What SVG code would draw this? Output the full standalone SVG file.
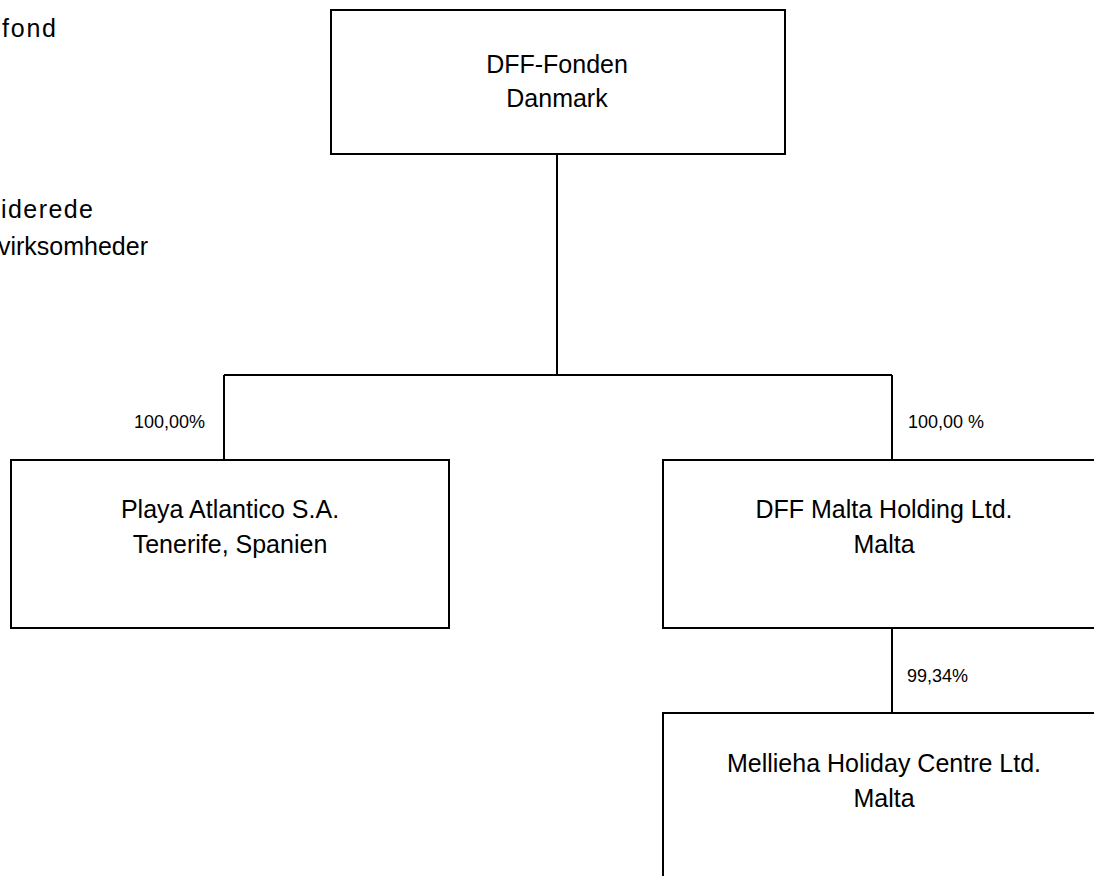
<svg xmlns="http://www.w3.org/2000/svg" width="1094" height="876" viewBox="0 0 1094 876">
  <style>
    .box { fill: #ffffff; stroke: #000000; stroke-width: 2; }
    .conn { fill: none; stroke: #000000; stroke-width: 2; }
    .name { font-family: "Liberation Sans", Arial, sans-serif; font-size: 25px; fill: #000000; text-anchor: middle; }
    .pct { font-family: "Liberation Sans", Arial, sans-serif; font-size: 18px; fill: #000000; }
    .side { font-family: "Liberation Sans", Arial, sans-serif; font-size: 25px; fill: #000000; }
  </style>
  <rect width="1094" height="876" fill="#ffffff"/>

  <g id="legend">
    <text class="side" x="2" y="37" textLength="54" lengthAdjust="spacing">fond</text>
    <text class="side" x="1" y="218" textLength="92" lengthAdjust="spacing">iderede</text>
    <text class="side" x="-2" y="255" textLength="150" lengthAdjust="spacing">virksomheder</text>
  </g>

  <g id="connectors">
    <path class="conn" d="M557 154 V375 M224 375 H892 M224 375 V460 M892 375 V460 M892 628 V713"/>
    <text class="pct" x="205" y="428" text-anchor="end">100,00%</text>
    <text class="pct" x="908" y="428">100,00 %</text>
    <text class="pct" x="907" y="682">99,34%</text>
  </g>

  <g id="dff-fonden">
    <rect class="box" x="331" y="10" width="454" height="144"/>
    <text class="name" x="557" y="73">DFF-Fonden</text>
    <text class="name" x="557" y="107">Danmark</text>
  </g>

  <g id="playa-atlantico">
    <rect class="box" x="11" y="460" width="438" height="168"/>
    <text class="name" x="230" y="518">Playa Atlantico S.A.</text>
    <text class="name" x="230" y="553">Tenerife, Spanien</text>
  </g>

  <g id="dff-malta-holding">
    <rect class="box" x="663" y="460" width="442" height="168"/>
    <text class="name" x="884" y="518">DFF Malta Holding Ltd.</text>
    <text class="name" x="884" y="553">Malta</text>
  </g>

  <g id="mellieha-holiday-centre">
    <rect class="box" x="663" y="713" width="442" height="200"/>
    <text class="name" x="884" y="772">Mellieha Holiday Centre Ltd.</text>
    <text class="name" x="884" y="807">Malta</text>
  </g>
</svg>
